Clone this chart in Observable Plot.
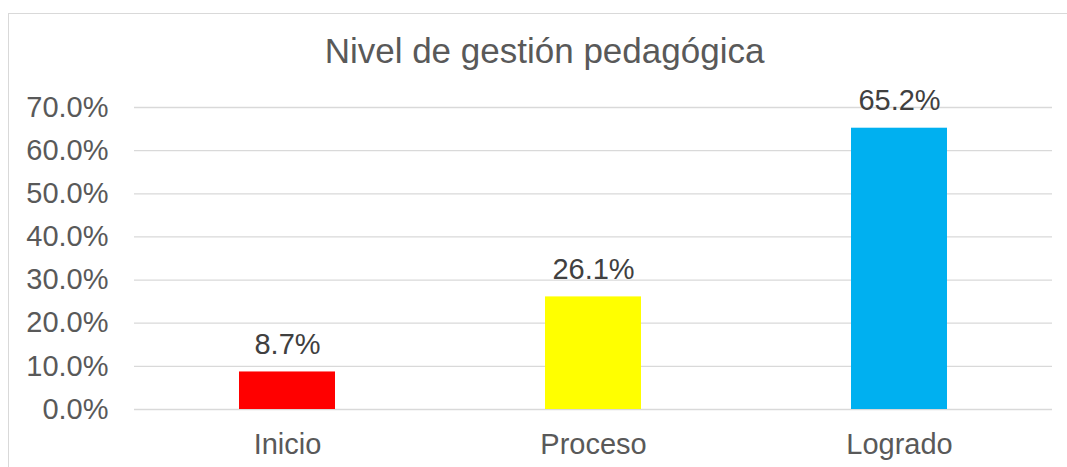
<!DOCTYPE html>
<html>
<head>
<meta charset="utf-8">
<script src="https://cdn.jsdelivr.net/npm/d3@7"></script>
<script src="https://cdn.jsdelivr.net/npm/@observablehq/plot@0.6"></script>
<style>
  html, body { margin: 0; padding: 0; background: #fff; overflow: hidden; }
  #wrap { position: relative; width: 1067px; height: 467px; overflow: hidden; }
  #frame { position: absolute; left: 8px; top: 13px; right: -20px; bottom: -20px;
           border: 1px solid #d9d9d9; }
  #chart { position: absolute; left: 0; top: 0; }
</style>
</head>
<body>
<div id="wrap"><div id="frame"></div><div id="chart"></div></div>
<script>
const title = "Nivel de gestión pedagógica";
const categories = ["Inicio", "Proceso", "Logrado"];
const values = [8.7, 26.1, 65.2];
const yTicks = [0, 10, 20, 30, 40, 50, 60, 70];
const barColors = ["#ff0000", "#ffff00", "#00b0f0"];

const data = categories.map((c, i) => ({category: c, value: values[i]}));
const fmt = d => d.toFixed(1) + "%";

const chart = Plot.plot({
  width: 1067,
  height: 467,
  marginLeft: 134,
  marginRight: 15,
  marginTop: 107,
  marginBottom: 58,
  style: {fontFamily: "'Liberation Sans', Arial, sans-serif", background: "transparent", overflow: "visible"},
  x: {domain: categories, paddingInner: 0.6863, paddingOuter: 0.3431, label: null},
  y: {domain: [0, 70], label: null},
  color: {domain: categories, range: barColors},
  marks: [
    Plot.ruleY(yTicks, {stroke: "#d9d9d9", strokeWidth: 1.3}),
    Plot.barY(data, {x: "category", y: "value", fill: "category"}),
    Plot.text(data, {x: "category", y: "value", text: d => fmt(d.value), dy: -18, lineAnchor: "bottom",
      fontSize: 29, fill: "#404040"}),
    Plot.axisY(yTicks, {tickSize: 0, tickPadding: 26, tickFormat: fmt, fontSize: 29, fill: "#595959", label: null}),
    Plot.axisX(categories, {tickSize: 0, tickPadding: 24, fontSize: 29, fill: "#595959", label: null}),
    Plot.text([title], {frameAnchor: "top", dx: -49, dy: -56, lineAnchor: "middle", fontSize: 35, fill: "#595959"})
  ]
});
document.getElementById("chart").appendChild(chart);
</script>
</body>
</html>
